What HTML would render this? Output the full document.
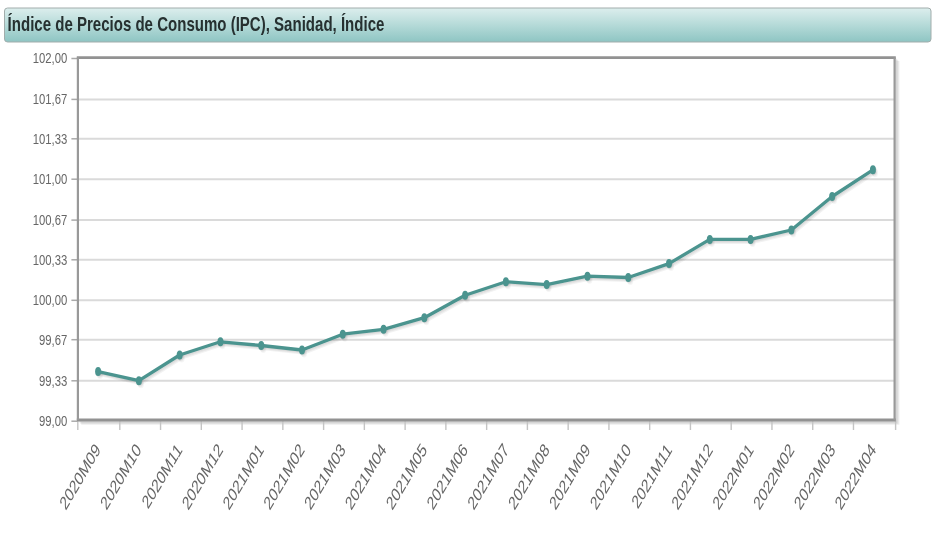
<!DOCTYPE html>
<html><head><meta charset="utf-8"><title>IPC Sanidad</title>
<style>
html,body{margin:0;padding:0;background:#fff;}
body{width:940px;height:558px;position:relative;overflow:hidden;font-family:"Liberation Sans",sans-serif;}
</style></head><body>
<svg width="940" height="558" viewBox="0 0 940 558" style="position:absolute;left:0;top:0;will-change:transform">
<defs><linearGradient id="hg" x1="0" y1="0" x2="0" y2="1"><stop offset="0" stop-color="#dceeed"/><stop offset="0.5" stop-color="#b5dad8"/><stop offset="1" stop-color="#8ec5c3"/></linearGradient></defs>
<rect x="4.5" y="8.0" width="926.5" height="34.0" rx="3" ry="3" fill="url(#hg)" stroke="#a2adac" stroke-width="1"/>
<text transform="translate(7.6,31) scale(0.752,1)" font-family="Liberation Sans, sans-serif" font-weight="bold" font-size="20" fill="#263030">Índice de Precios de Consumo (IPC), Sanidad, Índice</text>
<path d="M79.00 421.10 H895.70 V58.70" fill="none" stroke="#000" stroke-opacity="0.07" stroke-width="3"/>
<path d="M80.10 422.20 H896.80 V59.80" fill="none" stroke="#000" stroke-opacity="0.07" stroke-width="3"/>
<path d="M81.20 423.30 H897.90 V60.90" fill="none" stroke="#000" stroke-opacity="0.07" stroke-width="3"/>
<rect x="77.9" y="57.6" width="816.7" height="362.4" fill="#fff"/>
<line x1="71.4" y1="58.50" x2="77.9" y2="58.50" stroke="#aaa" stroke-width="1.5"/>
<line x1="77.9" y1="99.40" x2="894.6" y2="99.40" stroke="#dadada" stroke-width="2"/>
<line x1="71.4" y1="99.40" x2="77.9" y2="99.40" stroke="#aaa" stroke-width="1.5"/>
<line x1="77.9" y1="138.80" x2="894.6" y2="138.80" stroke="#dadada" stroke-width="2"/>
<line x1="71.4" y1="138.80" x2="77.9" y2="138.80" stroke="#aaa" stroke-width="1.5"/>
<line x1="77.9" y1="179.20" x2="894.6" y2="179.20" stroke="#dadada" stroke-width="2"/>
<line x1="71.4" y1="179.20" x2="77.9" y2="179.20" stroke="#aaa" stroke-width="1.5"/>
<line x1="77.9" y1="220.10" x2="894.6" y2="220.10" stroke="#dadada" stroke-width="2"/>
<line x1="71.4" y1="220.10" x2="77.9" y2="220.10" stroke="#aaa" stroke-width="1.5"/>
<line x1="77.9" y1="259.80" x2="894.6" y2="259.80" stroke="#dadada" stroke-width="2"/>
<line x1="71.4" y1="259.80" x2="77.9" y2="259.80" stroke="#aaa" stroke-width="1.5"/>
<line x1="77.9" y1="300.30" x2="894.6" y2="300.30" stroke="#dadada" stroke-width="2"/>
<line x1="71.4" y1="300.30" x2="77.9" y2="300.30" stroke="#aaa" stroke-width="1.5"/>
<line x1="77.9" y1="339.70" x2="894.6" y2="339.70" stroke="#dadada" stroke-width="2"/>
<line x1="71.4" y1="339.70" x2="77.9" y2="339.70" stroke="#aaa" stroke-width="1.5"/>
<line x1="77.9" y1="380.80" x2="894.6" y2="380.80" stroke="#dadada" stroke-width="2"/>
<line x1="71.4" y1="380.80" x2="77.9" y2="380.80" stroke="#aaa" stroke-width="1.5"/>
<line x1="71.4" y1="421.20" x2="77.9" y2="421.20" stroke="#aaa" stroke-width="1.5"/>
<line x1="77.80" y1="420.0" x2="77.80" y2="430" stroke="#c4c4c4" stroke-width="1.4"/>
<line x1="119.80" y1="420.0" x2="119.80" y2="430" stroke="#c4c4c4" stroke-width="1.4"/>
<line x1="160.56" y1="420.0" x2="160.56" y2="430" stroke="#c4c4c4" stroke-width="1.4"/>
<line x1="201.32" y1="420.0" x2="201.32" y2="430" stroke="#c4c4c4" stroke-width="1.4"/>
<line x1="242.08" y1="420.0" x2="242.08" y2="430" stroke="#c4c4c4" stroke-width="1.4"/>
<line x1="282.84" y1="420.0" x2="282.84" y2="430" stroke="#c4c4c4" stroke-width="1.4"/>
<line x1="323.60" y1="420.0" x2="323.60" y2="430" stroke="#c4c4c4" stroke-width="1.4"/>
<line x1="364.36" y1="420.0" x2="364.36" y2="430" stroke="#c4c4c4" stroke-width="1.4"/>
<line x1="405.12" y1="420.0" x2="405.12" y2="430" stroke="#c4c4c4" stroke-width="1.4"/>
<line x1="445.88" y1="420.0" x2="445.88" y2="430" stroke="#c4c4c4" stroke-width="1.4"/>
<line x1="486.64" y1="420.0" x2="486.64" y2="430" stroke="#c4c4c4" stroke-width="1.4"/>
<line x1="527.40" y1="420.0" x2="527.40" y2="430" stroke="#c4c4c4" stroke-width="1.4"/>
<line x1="568.16" y1="420.0" x2="568.16" y2="430" stroke="#c4c4c4" stroke-width="1.4"/>
<line x1="608.92" y1="420.0" x2="608.92" y2="430" stroke="#c4c4c4" stroke-width="1.4"/>
<line x1="649.68" y1="420.0" x2="649.68" y2="430" stroke="#c4c4c4" stroke-width="1.4"/>
<line x1="690.44" y1="420.0" x2="690.44" y2="430" stroke="#c4c4c4" stroke-width="1.4"/>
<line x1="731.20" y1="420.0" x2="731.20" y2="430" stroke="#c4c4c4" stroke-width="1.4"/>
<line x1="771.96" y1="420.0" x2="771.96" y2="430" stroke="#c4c4c4" stroke-width="1.4"/>
<line x1="812.72" y1="420.0" x2="812.72" y2="430" stroke="#c4c4c4" stroke-width="1.4"/>
<line x1="853.48" y1="420.0" x2="853.48" y2="430" stroke="#c4c4c4" stroke-width="1.4"/>
<line x1="895.60" y1="420.0" x2="895.60" y2="430" stroke="#c4c4c4" stroke-width="1.4"/>
<line x1="76.80000000000001" y1="57.6" x2="895.8000000000001" y2="57.6" stroke="#929292" stroke-width="2.6"/>
<line x1="76.80000000000001" y1="420.0" x2="895.8000000000001" y2="420.0" stroke="#929292" stroke-width="2.8"/>
<line x1="77.9" y1="57.6" x2="77.9" y2="420.0" stroke="#999" stroke-width="2.2"/>
<line x1="894.6" y1="57.6" x2="894.6" y2="420.0" stroke="#999" stroke-width="2.2"/>
<path d="M98.10 371.60 L138.88 380.70 L179.66 355.00 L220.44 341.80 L261.22 345.50 L302.00 350.00 L342.78 334.20 L383.56 329.30 L424.34 317.70 L465.12 295.30 L505.90 281.80 L546.68 284.60 L587.46 276.20 L628.24 277.50 L669.02 263.60 L709.80 239.40 L750.58 239.40 L791.36 230.00 L832.14 196.50 L872.92 169.80" transform="translate(0.70,1.0)" fill="none" stroke="#000" stroke-opacity="0.05" stroke-width="3.3" stroke-linejoin="round" stroke-linecap="round"/>
<path d="M98.10 371.60 L138.88 380.70 L179.66 355.00 L220.44 341.80 L261.22 345.50 L302.00 350.00 L342.78 334.20 L383.56 329.30 L424.34 317.70 L465.12 295.30 L505.90 281.80 L546.68 284.60 L587.46 276.20 L628.24 277.50 L669.02 263.60 L709.80 239.40 L750.58 239.40 L791.36 230.00 L832.14 196.50 L872.92 169.80" transform="translate(1.40,2.0)" fill="none" stroke="#000" stroke-opacity="0.05" stroke-width="3.3" stroke-linejoin="round" stroke-linecap="round"/>
<path d="M98.10 371.60 L138.88 380.70 L179.66 355.00 L220.44 341.80 L261.22 345.50 L302.00 350.00 L342.78 334.20 L383.56 329.30 L424.34 317.70 L465.12 295.30 L505.90 281.80 L546.68 284.60 L587.46 276.20 L628.24 277.50 L669.02 263.60 L709.80 239.40 L750.58 239.40 L791.36 230.00 L832.14 196.50 L872.92 169.80" transform="translate(2.10,3.0)" fill="none" stroke="#000" stroke-opacity="0.05" stroke-width="3.3" stroke-linejoin="round" stroke-linecap="round"/>
<ellipse cx="98.80" cy="372.60" rx="3.0" ry="4.5" fill="#000" fill-opacity="0.04"/>
<ellipse cx="99.50" cy="373.60" rx="3.0" ry="4.5" fill="#000" fill-opacity="0.04"/>
<ellipse cx="100.20" cy="374.60" rx="3.0" ry="4.5" fill="#000" fill-opacity="0.04"/>
<ellipse cx="139.58" cy="381.70" rx="3.0" ry="4.5" fill="#000" fill-opacity="0.04"/>
<ellipse cx="140.28" cy="382.70" rx="3.0" ry="4.5" fill="#000" fill-opacity="0.04"/>
<ellipse cx="140.98" cy="383.70" rx="3.0" ry="4.5" fill="#000" fill-opacity="0.04"/>
<ellipse cx="180.36" cy="356.00" rx="3.0" ry="4.5" fill="#000" fill-opacity="0.04"/>
<ellipse cx="181.06" cy="357.00" rx="3.0" ry="4.5" fill="#000" fill-opacity="0.04"/>
<ellipse cx="181.76" cy="358.00" rx="3.0" ry="4.5" fill="#000" fill-opacity="0.04"/>
<ellipse cx="221.14" cy="342.80" rx="3.0" ry="4.5" fill="#000" fill-opacity="0.04"/>
<ellipse cx="221.84" cy="343.80" rx="3.0" ry="4.5" fill="#000" fill-opacity="0.04"/>
<ellipse cx="222.54" cy="344.80" rx="3.0" ry="4.5" fill="#000" fill-opacity="0.04"/>
<ellipse cx="261.92" cy="346.50" rx="3.0" ry="4.5" fill="#000" fill-opacity="0.04"/>
<ellipse cx="262.62" cy="347.50" rx="3.0" ry="4.5" fill="#000" fill-opacity="0.04"/>
<ellipse cx="263.32" cy="348.50" rx="3.0" ry="4.5" fill="#000" fill-opacity="0.04"/>
<ellipse cx="302.70" cy="351.00" rx="3.0" ry="4.5" fill="#000" fill-opacity="0.04"/>
<ellipse cx="303.40" cy="352.00" rx="3.0" ry="4.5" fill="#000" fill-opacity="0.04"/>
<ellipse cx="304.10" cy="353.00" rx="3.0" ry="4.5" fill="#000" fill-opacity="0.04"/>
<ellipse cx="343.48" cy="335.20" rx="3.0" ry="4.5" fill="#000" fill-opacity="0.04"/>
<ellipse cx="344.18" cy="336.20" rx="3.0" ry="4.5" fill="#000" fill-opacity="0.04"/>
<ellipse cx="344.88" cy="337.20" rx="3.0" ry="4.5" fill="#000" fill-opacity="0.04"/>
<ellipse cx="384.26" cy="330.30" rx="3.0" ry="4.5" fill="#000" fill-opacity="0.04"/>
<ellipse cx="384.96" cy="331.30" rx="3.0" ry="4.5" fill="#000" fill-opacity="0.04"/>
<ellipse cx="385.66" cy="332.30" rx="3.0" ry="4.5" fill="#000" fill-opacity="0.04"/>
<ellipse cx="425.04" cy="318.70" rx="3.0" ry="4.5" fill="#000" fill-opacity="0.04"/>
<ellipse cx="425.74" cy="319.70" rx="3.0" ry="4.5" fill="#000" fill-opacity="0.04"/>
<ellipse cx="426.44" cy="320.70" rx="3.0" ry="4.5" fill="#000" fill-opacity="0.04"/>
<ellipse cx="465.82" cy="296.30" rx="3.0" ry="4.5" fill="#000" fill-opacity="0.04"/>
<ellipse cx="466.52" cy="297.30" rx="3.0" ry="4.5" fill="#000" fill-opacity="0.04"/>
<ellipse cx="467.22" cy="298.30" rx="3.0" ry="4.5" fill="#000" fill-opacity="0.04"/>
<ellipse cx="506.60" cy="282.80" rx="3.0" ry="4.5" fill="#000" fill-opacity="0.04"/>
<ellipse cx="507.30" cy="283.80" rx="3.0" ry="4.5" fill="#000" fill-opacity="0.04"/>
<ellipse cx="508.00" cy="284.80" rx="3.0" ry="4.5" fill="#000" fill-opacity="0.04"/>
<ellipse cx="547.38" cy="285.60" rx="3.0" ry="4.5" fill="#000" fill-opacity="0.04"/>
<ellipse cx="548.08" cy="286.60" rx="3.0" ry="4.5" fill="#000" fill-opacity="0.04"/>
<ellipse cx="548.78" cy="287.60" rx="3.0" ry="4.5" fill="#000" fill-opacity="0.04"/>
<ellipse cx="588.16" cy="277.20" rx="3.0" ry="4.5" fill="#000" fill-opacity="0.04"/>
<ellipse cx="588.86" cy="278.20" rx="3.0" ry="4.5" fill="#000" fill-opacity="0.04"/>
<ellipse cx="589.56" cy="279.20" rx="3.0" ry="4.5" fill="#000" fill-opacity="0.04"/>
<ellipse cx="628.94" cy="278.50" rx="3.0" ry="4.5" fill="#000" fill-opacity="0.04"/>
<ellipse cx="629.64" cy="279.50" rx="3.0" ry="4.5" fill="#000" fill-opacity="0.04"/>
<ellipse cx="630.34" cy="280.50" rx="3.0" ry="4.5" fill="#000" fill-opacity="0.04"/>
<ellipse cx="669.72" cy="264.60" rx="3.0" ry="4.5" fill="#000" fill-opacity="0.04"/>
<ellipse cx="670.42" cy="265.60" rx="3.0" ry="4.5" fill="#000" fill-opacity="0.04"/>
<ellipse cx="671.12" cy="266.60" rx="3.0" ry="4.5" fill="#000" fill-opacity="0.04"/>
<ellipse cx="710.50" cy="240.40" rx="3.0" ry="4.5" fill="#000" fill-opacity="0.04"/>
<ellipse cx="711.20" cy="241.40" rx="3.0" ry="4.5" fill="#000" fill-opacity="0.04"/>
<ellipse cx="711.90" cy="242.40" rx="3.0" ry="4.5" fill="#000" fill-opacity="0.04"/>
<ellipse cx="751.28" cy="240.40" rx="3.0" ry="4.5" fill="#000" fill-opacity="0.04"/>
<ellipse cx="751.98" cy="241.40" rx="3.0" ry="4.5" fill="#000" fill-opacity="0.04"/>
<ellipse cx="752.68" cy="242.40" rx="3.0" ry="4.5" fill="#000" fill-opacity="0.04"/>
<ellipse cx="792.06" cy="231.00" rx="3.0" ry="4.5" fill="#000" fill-opacity="0.04"/>
<ellipse cx="792.76" cy="232.00" rx="3.0" ry="4.5" fill="#000" fill-opacity="0.04"/>
<ellipse cx="793.46" cy="233.00" rx="3.0" ry="4.5" fill="#000" fill-opacity="0.04"/>
<ellipse cx="832.84" cy="197.50" rx="3.0" ry="4.5" fill="#000" fill-opacity="0.04"/>
<ellipse cx="833.54" cy="198.50" rx="3.0" ry="4.5" fill="#000" fill-opacity="0.04"/>
<ellipse cx="834.24" cy="199.50" rx="3.0" ry="4.5" fill="#000" fill-opacity="0.04"/>
<ellipse cx="873.62" cy="170.80" rx="3.0" ry="4.5" fill="#000" fill-opacity="0.04"/>
<ellipse cx="874.32" cy="171.80" rx="3.0" ry="4.5" fill="#000" fill-opacity="0.04"/>
<ellipse cx="875.02" cy="172.80" rx="3.0" ry="4.5" fill="#000" fill-opacity="0.04"/>
<path d="M98.10 371.60 L138.88 380.70 L179.66 355.00 L220.44 341.80 L261.22 345.50 L302.00 350.00 L342.78 334.20 L383.56 329.30 L424.34 317.70 L465.12 295.30 L505.90 281.80 L546.68 284.60 L587.46 276.20 L628.24 277.50 L669.02 263.60 L709.80 239.40 L750.58 239.40 L791.36 230.00 L832.14 196.50 L872.92 169.80" fill="none" stroke="#4b948f" stroke-width="3.3" stroke-linejoin="round" stroke-linecap="round"/>
<ellipse cx="98.10" cy="371.60" rx="3.0" ry="4.5" fill="#4b948f"/>
<ellipse cx="138.88" cy="380.70" rx="3.0" ry="4.5" fill="#4b948f"/>
<ellipse cx="179.66" cy="355.00" rx="3.0" ry="4.5" fill="#4b948f"/>
<ellipse cx="220.44" cy="341.80" rx="3.0" ry="4.5" fill="#4b948f"/>
<ellipse cx="261.22" cy="345.50" rx="3.0" ry="4.5" fill="#4b948f"/>
<ellipse cx="302.00" cy="350.00" rx="3.0" ry="4.5" fill="#4b948f"/>
<ellipse cx="342.78" cy="334.20" rx="3.0" ry="4.5" fill="#4b948f"/>
<ellipse cx="383.56" cy="329.30" rx="3.0" ry="4.5" fill="#4b948f"/>
<ellipse cx="424.34" cy="317.70" rx="3.0" ry="4.5" fill="#4b948f"/>
<ellipse cx="465.12" cy="295.30" rx="3.0" ry="4.5" fill="#4b948f"/>
<ellipse cx="505.90" cy="281.80" rx="3.0" ry="4.5" fill="#4b948f"/>
<ellipse cx="546.68" cy="284.60" rx="3.0" ry="4.5" fill="#4b948f"/>
<ellipse cx="587.46" cy="276.20" rx="3.0" ry="4.5" fill="#4b948f"/>
<ellipse cx="628.24" cy="277.50" rx="3.0" ry="4.5" fill="#4b948f"/>
<ellipse cx="669.02" cy="263.60" rx="3.0" ry="4.5" fill="#4b948f"/>
<ellipse cx="709.80" cy="239.40" rx="3.0" ry="4.5" fill="#4b948f"/>
<ellipse cx="750.58" cy="239.40" rx="3.0" ry="4.5" fill="#4b948f"/>
<ellipse cx="791.36" cy="230.00" rx="3.0" ry="4.5" fill="#4b948f"/>
<ellipse cx="832.14" cy="196.50" rx="3.0" ry="4.5" fill="#4b948f"/>
<ellipse cx="872.92" cy="169.80" rx="3.0" ry="4.5" fill="#4b948f"/>
<text transform="translate(67.2,63.30) scale(0.73,1)" text-anchor="end" font-family="Liberation Sans, sans-serif" font-size="15.5" fill="#666666">102,00</text>
<text transform="translate(67.2,104.20) scale(0.73,1)" text-anchor="end" font-family="Liberation Sans, sans-serif" font-size="15.5" fill="#666666">101,67</text>
<text transform="translate(67.2,143.60) scale(0.73,1)" text-anchor="end" font-family="Liberation Sans, sans-serif" font-size="15.5" fill="#666666">101,33</text>
<text transform="translate(67.2,184.00) scale(0.73,1)" text-anchor="end" font-family="Liberation Sans, sans-serif" font-size="15.5" fill="#666666">101,00</text>
<text transform="translate(67.2,224.90) scale(0.73,1)" text-anchor="end" font-family="Liberation Sans, sans-serif" font-size="15.5" fill="#666666">100,67</text>
<text transform="translate(67.2,264.60) scale(0.73,1)" text-anchor="end" font-family="Liberation Sans, sans-serif" font-size="15.5" fill="#666666">100,33</text>
<text transform="translate(67.2,305.10) scale(0.73,1)" text-anchor="end" font-family="Liberation Sans, sans-serif" font-size="15.5" fill="#666666">100,00</text>
<text transform="translate(67.2,344.50) scale(0.73,1)" text-anchor="end" font-family="Liberation Sans, sans-serif" font-size="15.5" fill="#666666">99,67</text>
<text transform="translate(67.2,385.60) scale(0.73,1)" text-anchor="end" font-family="Liberation Sans, sans-serif" font-size="15.5" fill="#666666">99,33</text>
<text transform="translate(67.2,426.00) scale(0.73,1)" text-anchor="end" font-family="Liberation Sans, sans-serif" font-size="15.5" fill="#666666">99,00</text>
<text transform="translate(101.30,450.30) scale(0.7,1) rotate(-50) scale(1.0,1)" text-anchor="end" font-family="Liberation Sans, sans-serif" font-size="19" fill="#666666">2020M09</text>
<text transform="translate(142.11,450.30) scale(0.7,1) rotate(-50) scale(1.0,1)" text-anchor="end" font-family="Liberation Sans, sans-serif" font-size="19" fill="#666666">2020M10</text>
<text transform="translate(182.92,450.30) scale(0.7,1) rotate(-50) scale(1.0,1)" text-anchor="end" font-family="Liberation Sans, sans-serif" font-size="19" fill="#666666">2020M11</text>
<text transform="translate(223.73,450.30) scale(0.7,1) rotate(-50) scale(1.0,1)" text-anchor="end" font-family="Liberation Sans, sans-serif" font-size="19" fill="#666666">2020M12</text>
<text transform="translate(264.54,450.30) scale(0.7,1) rotate(-50) scale(1.0,1)" text-anchor="end" font-family="Liberation Sans, sans-serif" font-size="19" fill="#666666">2021M01</text>
<text transform="translate(305.35,450.30) scale(0.7,1) rotate(-50) scale(1.0,1)" text-anchor="end" font-family="Liberation Sans, sans-serif" font-size="19" fill="#666666">2021M02</text>
<text transform="translate(346.16,450.30) scale(0.7,1) rotate(-50) scale(1.0,1)" text-anchor="end" font-family="Liberation Sans, sans-serif" font-size="19" fill="#666666">2021M03</text>
<text transform="translate(386.97,450.30) scale(0.7,1) rotate(-50) scale(1.0,1)" text-anchor="end" font-family="Liberation Sans, sans-serif" font-size="19" fill="#666666">2021M04</text>
<text transform="translate(427.78,450.30) scale(0.7,1) rotate(-50) scale(1.0,1)" text-anchor="end" font-family="Liberation Sans, sans-serif" font-size="19" fill="#666666">2021M05</text>
<text transform="translate(468.59,450.30) scale(0.7,1) rotate(-50) scale(1.0,1)" text-anchor="end" font-family="Liberation Sans, sans-serif" font-size="19" fill="#666666">2021M06</text>
<text transform="translate(509.40,450.30) scale(0.7,1) rotate(-50) scale(1.0,1)" text-anchor="end" font-family="Liberation Sans, sans-serif" font-size="19" fill="#666666">2021M07</text>
<text transform="translate(550.21,450.30) scale(0.7,1) rotate(-50) scale(1.0,1)" text-anchor="end" font-family="Liberation Sans, sans-serif" font-size="19" fill="#666666">2021M08</text>
<text transform="translate(591.02,450.30) scale(0.7,1) rotate(-50) scale(1.0,1)" text-anchor="end" font-family="Liberation Sans, sans-serif" font-size="19" fill="#666666">2021M09</text>
<text transform="translate(631.83,450.30) scale(0.7,1) rotate(-50) scale(1.0,1)" text-anchor="end" font-family="Liberation Sans, sans-serif" font-size="19" fill="#666666">2021M10</text>
<text transform="translate(672.64,450.30) scale(0.7,1) rotate(-50) scale(1.0,1)" text-anchor="end" font-family="Liberation Sans, sans-serif" font-size="19" fill="#666666">2021M11</text>
<text transform="translate(713.45,450.30) scale(0.7,1) rotate(-50) scale(1.0,1)" text-anchor="end" font-family="Liberation Sans, sans-serif" font-size="19" fill="#666666">2021M12</text>
<text transform="translate(754.26,450.30) scale(0.7,1) rotate(-50) scale(1.0,1)" text-anchor="end" font-family="Liberation Sans, sans-serif" font-size="19" fill="#666666">2022M01</text>
<text transform="translate(795.07,450.30) scale(0.7,1) rotate(-50) scale(1.0,1)" text-anchor="end" font-family="Liberation Sans, sans-serif" font-size="19" fill="#666666">2022M02</text>
<text transform="translate(835.88,450.30) scale(0.7,1) rotate(-50) scale(1.0,1)" text-anchor="end" font-family="Liberation Sans, sans-serif" font-size="19" fill="#666666">2022M03</text>
<text transform="translate(876.69,450.30) scale(0.7,1) rotate(-50) scale(1.0,1)" text-anchor="end" font-family="Liberation Sans, sans-serif" font-size="19" fill="#666666">2022M04</text>
</svg>
</body></html>
